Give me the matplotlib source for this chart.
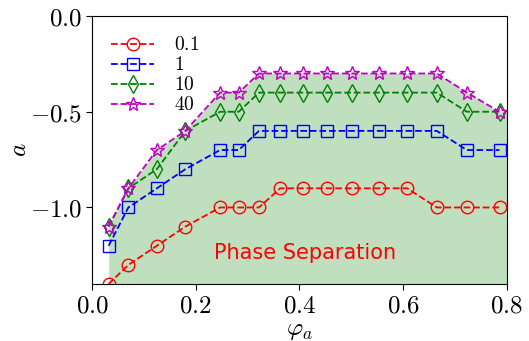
import numpy as np
import matplotlib.pyplot as plt
from matplotlib.ticker import FuncFormatter

plt.rcParams['mathtext.fontset'] = 'cm'

# fracción de volumen phi_a
phi = [0.032, 0.07, 0.125, 0.18, 0.247, 0.283, 0.322, 0.363, 0.407, 0.453,
       0.502, 0.554, 0.608, 0.665, 0.723, 0.786]

labels = ['0.1', '1', '10', '40']
a_01 = [-1.4, -1.3, -1.2, -1.1, -1.0, -1.0, -1.0, -0.9, -0.9, -0.9, -0.9,
        -0.9, -0.9, -1.0, -1.0, -1.0]
a_1 = [-1.2, -1.0, -0.9, -0.8, -0.7, -0.7, -0.6, -0.6, -0.6, -0.6, -0.6,
       -0.6, -0.6, -0.6, -0.7, -0.7]
a_10 = [-1.1, -0.9, -0.8, -0.6, -0.5, -0.5, -0.4, -0.4, -0.4, -0.4, -0.4,
        -0.4, -0.4, -0.4, -0.5, -0.5]
a_40 = [-1.1, -0.9, -0.7, -0.6, -0.4, -0.4, -0.3, -0.3, -0.3, -0.3, -0.3,
        -0.3, -0.3, -0.3, -0.4, -0.5]

series = [a_01, a_1, a_10, a_40]
styles = [('r', 'o'), ('b', 's'), ('g', 'd'), ('m', '*')]

fig = plt.figure(figsize=(5.29, 3.41), dpi=100)
ax = fig.add_axes([0.174, 0.167, 0.784, 0.786])

xmax = 0.8
# región de separación de fases (se prolonga hasta el borde derecho)
ax.fill_between(phi + [xmax], -1.5, a_40 + [a_40[-1]], color='g',
                alpha=0.25, lw=0)

for vals, lab, (c, m) in zip(series, labels, styles):
    ax.plot(phi, vals, ls='--', color=c, marker=m, mfc='none', mec=c,
            ms=10 if m == '*' else 9, mew=1.0, lw=1.3, label='$%s$' % lab)

ax.text(0.41, -1.24, 'Phase Separation', color='r', fontsize=15,
        ha='center', va='center')

ax.set_xlim(0, xmax)
ax.set_ylim(-1.4, 0)
ax.set_xticks([0, 0.2, 0.4, 0.6, 0.8])
ax.set_yticks([-1.0, -0.5, 0.0])
fmt = FuncFormatter(lambda v, p: r'$%.1f$' % v)
ax.xaxis.set_major_formatter(fmt)
ax.yaxis.set_major_formatter(fmt)
ax.tick_params(labelsize=18, direction='out', length=4, pad=3)
ax.set_xlabel(r'$\varphi_a$', fontsize=18, labelpad=0)
ax.set_ylabel(r'$a$', fontsize=18, labelpad=-1)

ax.legend(loc='upper left', frameon=False, fontsize=14,
          handlelength=2.2, labelspacing=0.05, borderaxespad=0.6,
          handletextpad=1.0)

fig.savefig('out.png', dpi=100)
